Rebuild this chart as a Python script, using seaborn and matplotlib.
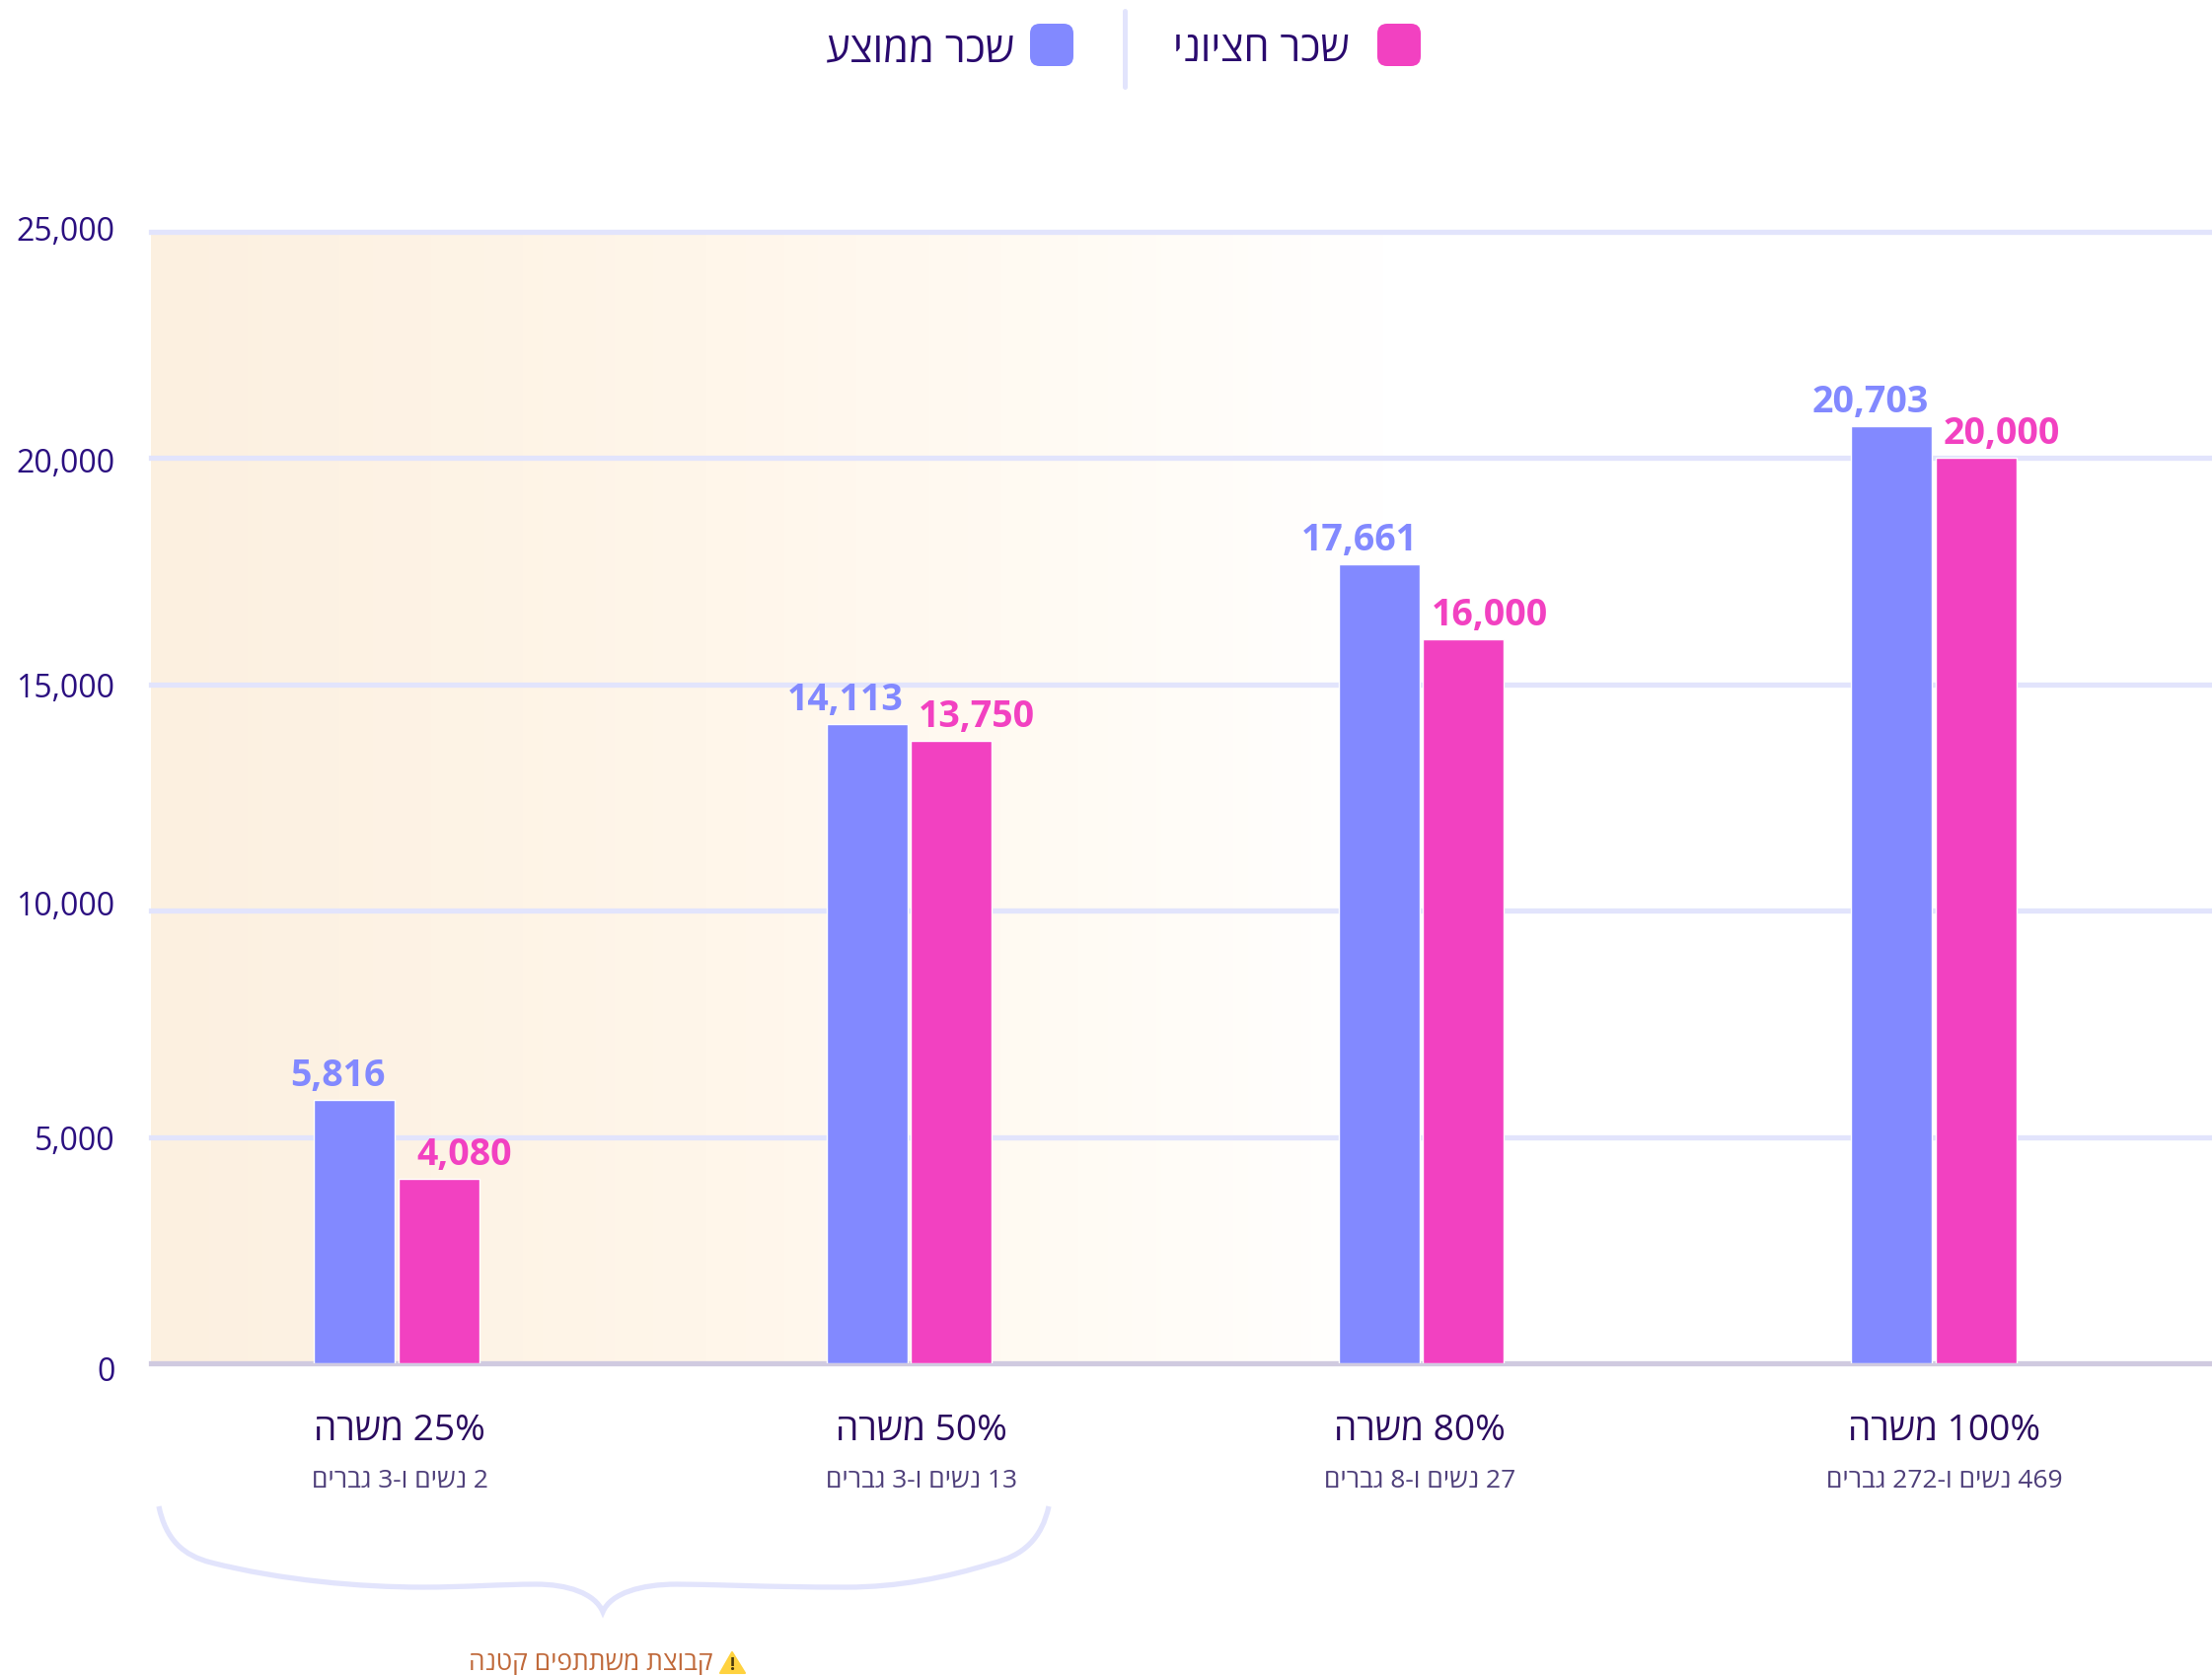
import matplotlib
matplotlib.use("Agg")
import matplotlib.pyplot as plt
import seaborn as sns
import pandas as pd
import numpy as np
from matplotlib.colors import LinearSegmentedColormap
from matplotlib.patches import FancyBboxPatch, PathPatch, Polygon
from matplotlib.path import Path
from matplotlib.transforms import Affine2D, ScaledTranslation

# data
jobs = ["25% משרה", "50% משרה", "80% משרה", "100% משרה"]
counts = ["2 נשים ו-3 גברים", "13 נשים ו-3 גברים", "27 נשים ו-8 גברים", "469 נשים ו-272 גברים"]
mean_pay = [5816, 14113, 17661, 20703]
median_pay = [4080, 13750, 16000, 20000]
series_names = ["שכר ממוצע", "שכר חציוני"]
note = "קבוצת משתתפים קטנה"
y_ticks = [0, 5000, 10000, 15000, 20000, 25000]

BLUE = "#8289FF"
PINK = "#F241C1"
GRID = "#E2E4FC"
W, H = 2242, 1699

sns.set_style("white")
plt.rcParams["font.family"] = ["Open Sans", "DejaVu Sans"]


def rtl(s):
    # matplotlib has no bidi, so put the text in display order
    words = []
    for w in s.split(" "):
        if any("\u0590" <= c <= "\u05ff" for c in w):
            w = w[::-1]
        words.append(w)
    return " ".join(words[::-1])


df = pd.DataFrame({
    "job": jobs * 2,
    "pay": mean_pay + median_pay,
    "kind": [series_names[0]] * 4 + [series_names[1]] * 4,
})

fig = plt.figure(figsize=(W / 100, H / 100), dpi=100, facecolor="white")
ax = fig.add_axes([153 / W, 1 - 1383 / H, (W - 153) / W, (1383 - 236) / H])
px = Affine2D().scale(1 / W, -1 / H).translate(0, 1) + fig.transFigure

sns.barplot(data=df, x="job", y="pay", hue="kind", palette=[BLUE, PINK], saturation=1,
            width=0.329, gap=0.04, legend=False, ax=ax, zorder=2)

# background fade
fade = LinearSegmentedColormap.from_list(
    "fade", [(0, "#FCF0E0"), (0.45, "#FFF6EA"), (0.75, "#FFFBF4"), (1, "#FFFFFF")])
ax.imshow(np.linspace(0, 1, 256).reshape(1, -1), cmap=fade, aspect="auto",
          extent=[0, 0.6, 0, 1], transform=ax.transAxes, zorder=0)

ax.set_xlim(-0.4795, 3.543)
ax.set_ylim(0, 25000)
ax.set_xlabel("")
ax.set_ylabel("")
sns.despine(ax=ax, left=True, bottom=True, top=True, right=True)

ax.set_yticks(y_ticks)
ax.set_yticklabels([f"{v:,}" for v in y_ticks], fontsize=23, color="#2B0F80")
ax.tick_params(axis="y", length=0, pad=26.3)
ax.set_axisbelow(True)
ax.grid(axis="y", color=GRID, linewidth=3.8, zorder=1)
for line in ax.get_ygridlines():
    line.set_clip_on(False)
    line.set_solid_capstyle("projecting")
ax.get_ygridlines()[0].set_color("#D0CAE0")

# tick labels in the source are not quite on their lines
for lab, dy in zip(ax.get_yticklabels(), [-5, 0, 9, 0, -1, 4]):
    lab.set_transform(lab.get_transform() + ScaledTranslation(0, dy / 100, fig.dpi_scale_trans))

# x labels, two lines under each group
ax.set_xticks(range(4))
ax.set_xticklabels([])
ax.tick_params(axis="x", length=0)
for i, (job, cnt, dx) in enumerate(zip(jobs, counts, [3, 13, -2, 11])):
    ax.annotate(rtl(job), xy=(i, 0), xytext=(dx, -68), textcoords="offset pixels",
                ha="center", va="center", fontsize=26.7, color="#2A0A5E")
    ax.annotate(rtl(cnt), xy=(i, 0), xytext=(dx, -118), textcoords="offset pixels",
                ha="center", va="center", fontsize=19, color="#4E3F7A")

# value labels
blue_bars = ax.containers[0]
pink_bars = ax.containers[1]
for bars, vals, col, shifts in [(blue_bars, mean_pay, BLUE, [-17, -22, -20, -22]),
                                (pink_bars, median_pay, PINK, [26, 26, 27, 26])]:
    for bar, v, dx in zip(bars, vals, shifts):
        ax.annotate(f"{v:,}", xy=(bar.get_x() + bar.get_width() / 2, v), xytext=(dx, 15),
                    textcoords="offset pixels", ha="center", va="baseline",
                    fontsize=27, fontweight="bold", color=col, zorder=5)

# legend at the top
for x0, col in [(1396, PINK), (1044, BLUE)]:
    fig.add_artist(FancyBboxPatch((x0, 25), 44, 43, boxstyle="round,pad=0,rounding_size=10",
                                  linewidth=0, facecolor=col, transform=px))
fig.add_artist(plt.Line2D([1140, 1140], [12, 89], color=GRID, linewidth=3.6, transform=px))
fig.text(1368 / W, 1 - 51 / H, rtl(series_names[1]), ha="right", va="center", fontsize=30, color="#2A0A6E")
fig.text(1028 / W, 1 - 51 / H, rtl(series_names[0]), ha="right", va="center", fontsize=30, color="#2A0A6E")

# brace under the two small groups
verts = [(161, 1528), (168, 1562), (186, 1578), (214, 1585),
         (285, 1603), (365, 1610), (429, 1610),
         (470, 1610), (510, 1607), (543, 1607),
         (575, 1607), (603, 1616), (611, 1635),
         (619, 1616), (650, 1607), (686, 1607),
         (720, 1607), (775, 1610), (858, 1610),
         (910, 1610), (960, 1600), (1005, 1586),
         (1038, 1578), (1056, 1560), (1063, 1528)]
codes = [Path.MOVETO] + [Path.CURVE4] * (len(verts) - 1)
fig.add_artist(PathPatch(Path(verts, codes), facecolor="none", edgecolor=GRID, linewidth=3.8, transform=px))

# small-group note
fig.text(723 / W, 1 - 1687 / H, rtl(note), ha="right", va="center", fontsize=18.9, color="#C0693A")
fig.add_artist(Polygon([(742, 1676), (755, 1697), (730, 1697)], closed=True, facecolor="#FFD23F",
                       edgecolor="#FFD23F", linewidth=1.5, joinstyle="round", transform=px))
fig.text(742.5 / W, 1 - 1688 / H, "!", ha="center", va="center", fontsize=13, fontweight="bold", color="#4A3A10")

fig.savefig("out.png", dpi=100)
